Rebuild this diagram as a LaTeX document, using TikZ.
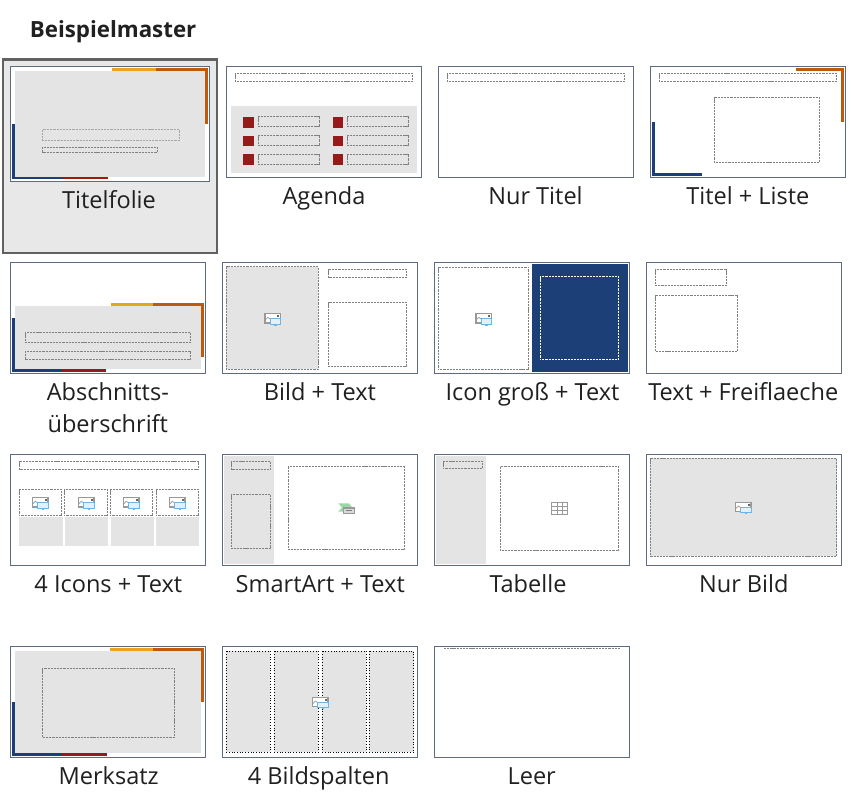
\documentclass[tikz,border=0pt]{standalone}
\usepackage{fontspec}
\setmainfont{Open Sans}
\definecolor{framecol}{HTML}{5F6B82}
\definecolor{slidegray}{HTML}{E4E4E4}
\definecolor{barblue}{HTML}{1C3F78}
\definecolor{barorange}{HTML}{BE5A0B}
\definecolor{baryellow}{HTML}{E8A71A}
\definecolor{barred}{HTML}{951A1A}
\definecolor{textcol}{HTML}{202020}
\definecolor{iconblue}{HTML}{6DB4E8}
\definecolor{icongreen}{HTML}{9AD8A8}
\tikzset{
  thumb/.style={draw=framecol, line width=0.75pt, fill=white},
  holder/.style={draw=black!50, line width=0.55pt, dash pattern=on 1.25pt off 0.55pt},
  iconline/.style={draw=black!40, line width=0.7pt},
  caption/.style={anchor=base, inner sep=0pt, yshift=-0.4pt, text=textcol, font=\fontsize{13.4}{15}\selectfont},
}
% Bild-Symbol
\newcommand{\iconpic}[2]{
  \begin{scope}[shift={(#1,#2)}]
    \draw[iconline, fill=white] (-7.8,-4.6) rectangle (7.8,4.6);
    \draw[black!40, line width=0.4pt] (-7.8,2) -- (-5,-1) -- (-2,1) -- (-1,3);
    \fill[black!60] (4.5,-3.5) rectangle (6.5,-1.5);
    \draw[iconblue, line width=0.6pt, fill=iconblue!20] (-2.5,0.2) rectangle (8,5.8);
    \fill[iconblue] (1.6,5.8) rectangle (3.8,7.2);
  \end{scope}
}
\begin{document}
\begin{tikzpicture}[x=0.02cm, y=-0.02cm]
        \useasboundingbox (0,0) rectangle (851,802);
        \fill[white] (0,0) rectangle (851,802);
        \node[anchor=base west, inner sep=0pt, text=textcol, font=\fontsize{12.7}{14}\selectfont\bfseries] (heading) at (29.5,37) {Beispielmaster};

        % Titelfolie
        \draw[draw=black!62, line width=1.2pt, fill=black!9] (3,59.5) rectangle (217,253);
        \draw[thumb] (10.5,66.5) rectangle (209.5,181.5);
        \fill[baryellow] (112,68) rectangle (156,71);
        \fill[barorange] (156,68) rectangle (208,71);
        \fill[barorange] (205,68) rectangle (208,124);
        \fill[barblue] (12,124) rectangle (15,179);
        \fill[barblue] (12,176) rectangle (63,179);
        \fill[barred] (63,176) rectangle (108,179);
        \fill[slidegray] (15,71) rectangle (205,177);
        \draw[holder, black!35, line width=0.8pt] (42.7,129.7) rectangle (179.3,140.3);
        \draw[holder] (42.7,147.2) rectangle (157.5,152.5);
        \node[caption] (titelfolie) at (109,207.3) {Titelfolie};

        % Agenda
        \draw[thumb] (226.5,66.5) rectangle (421.5,177.5);
        \draw[holder] (235.3,73.3) rectangle (412.7,81.3);
        \fill[slidegray] (231,106) rectangle (417,173);
        \fill[barred] (243,117) rectangle (254,128);
        \fill[barred] (243,136) rectangle (254,146);
        \fill[barred] (243,154) rectangle (254,165);
        \fill[barred] (333,117) rectangle (343,128);
        \fill[barred] (333,136) rectangle (343,146);
        \fill[barred] (333,154) rectangle (343,165);
        \draw[holder] (258.3,116.3) rectangle (319.7,126.7);
        \draw[holder] (258.3,135.3) rectangle (319.7,145.7);
        \draw[holder] (258.3,154.3) rectangle (319.7,164.7);
        \draw[holder] (347.3,116.3) rectangle (408.7,126.7);
        \draw[holder] (347.3,135.3) rectangle (408.7,145.7);
        \draw[holder] (347.3,154.3) rectangle (408.7,164.7);
        \node[caption] (agenda) at (324,203.5) {Agenda};

        % Nur Titel
        \draw[thumb] (438.3,66.5) rectangle (633.7,177.5);
        \draw[holder] (447.3,73.3) rectangle (624.7,81.3);
        \node[caption] (nurtitel) at (535.5,203.5) {Nur Titel};

        % Titel + Liste
        \draw[thumb] (650.3,66.5) rectangle (845.7,177.5);
        \fill[barorange] (796,68) rectangle (844,70.7);
        \fill[barorange] (841.3,68) rectangle (844,122);
        \fill[barblue] (652,122) rectangle (654.7,176);
        \fill[barblue] (652,173.3) rectangle (702,176);
        \draw[holder] (659.3,73.3) rectangle (836.7,81.3);
        \draw[holder] (714.3,97.3) rectangle (819.7,162.3);
        \node[caption] (titelliste) at (747.8,203.5) {Titel + Liste};

        % Abschnittsueberschrift
        \draw[thumb] (10.3,262.3) rectangle (205.7,373.3);
        \fill[baryellow] (111,303) rectangle (153,306);
        \fill[barorange] (153,303) rectangle (204,306);
        \fill[barorange] (201,303) rectangle (204,357);
        \fill[barblue] (12,318) rectangle (15,372);
        \fill[barblue] (12,369) rectangle (62,372);
        \fill[barred] (62,369) rectangle (106,372);
        \fill[slidegray] (15,306) rectangle (201,369);
        \draw[holder] (25.3,332.3) rectangle (190.7,342.7);
        \draw[holder] (25.3,351) rectangle (190.7,359.7);
        \node[caption] (abschnitt) at (107.8,400) {Abschnitts-};
        \node[caption] (ueberschrift) at (107.8,431.7) {überschrift};

        % Bild + Text
        \draw[thumb] (222.3,262.3) rectangle (417.7,373.3);
        \draw[holder, fill=slidegray] (226.3,266.7) rectangle (318.3,369.3);
        \draw[holder] (328.3,269.3) rectangle (406.7,277.7);
        \draw[holder] (328.3,302.3) rectangle (406.7,366.3);
        \iconpic{272.7}{318.3}
        \node[caption] (bildtext) at (320,400) {Bild + Text};

        % Icon gross + Text
        \draw[thumb] (434.3,262.3) rectangle (629.7,373.3);
        \draw[holder] (438.3,267.3) rectangle (528.7,369.7);
        \fill[barblue] (532,264) rectangle (628,372);
        \draw[holder, draw=white!85!yellow] (540.3,276.3) rectangle (618.7,359.7);
        \iconpic{483.7}{318.3}
        \node[caption] (icongross) at (532.5,400) {Icon groß + Text};

        % Text + Freiflaeche
        \draw[thumb] (646.3,262.3) rectangle (841.7,373.3);
        \draw[holder] (655.3,269.3) rectangle (726.7,285.3);
        \draw[holder] (655.3,295.3) rectangle (737.7,351.7);
        \node[caption] (freiflaeche) at (743.3,400) {Text + Freiflaeche};

        % 4 Icons + Text
        \draw[thumb] (10.3,454.3) rectangle (205.7,565.3);
        \draw[holder] (19.3,461.3) rectangle (198.7,469.7);
        \fill[slidegray] (19,517) rectangle (63,546);
        \fill[slidegray] (65,517) rectangle (108,546);
        \fill[slidegray] (111,517) rectangle (154,546);
        \fill[slidegray] (156,517) rectangle (199,546);
        \draw[holder] (19.3,489.3) rectangle (61.7,515.7);
        \draw[holder] (64.3,489.3) rectangle (107.7,515.7);
        \draw[holder] (110.3,489.3) rectangle (152.7,515.7);
        \draw[holder] (156.3,489.3) rectangle (198.7,515.7);
        \iconpic{40.3}{502.3}
        \iconpic{86.3}{502.3}
        \iconpic{131.3}{502.3}
        \iconpic{177.3}{502.3}
        \node[caption] (vierIcons) at (108.3,591.7) {4 Icons + Text};

        % SmartArt + Text
        \draw[thumb] (222.3,454.3) rectangle (417.7,565.3);
        \fill[slidegray] (224,456) rectangle (274,564);
        \draw[holder] (231.3,461.3) rectangle (270.7,469.7);
        \draw[holder] (231.3,494.3) rectangle (270.7,548.7);
        \draw[holder] (288.3,466.7) rectangle (404.7,549.7);
        \fill[icongreen] (338.3,503.3) -- (349,503.3) -- (353.3,509) -- (345,511.7) -- (338.3,511.7) -- (342,507.5) -- cycle;
        \draw[iconline, fill=black!15] (343.5,507.9) rectangle (354.5,513.5);
        \draw[black!50, line width=0.35pt] (346,510.7) -- (352,510.7);
        \node[caption] (smartart) at (320.3,591.7) {SmartArt + Text};

        % Tabelle
        \draw[thumb] (434.3,454.3) rectangle (629.7,565.3);
        \fill[slidegray] (436,456) rectangle (486,564);
        \draw[holder] (443.3,461.3) rectangle (482.7,468.7);
        \draw[holder] (500.3,466.7) rectangle (618.7,550.7);
        \draw[iconline, fill=white] (551.6,502.6) rectangle (567.4,514.4);
        \draw[black!40, line width=0.35pt] (556.9,502.6) -- (556.9,514.4);
        \draw[black!40, line width=0.35pt] (562.2,502.6) -- (562.2,514.4);
        \draw[black!40, line width=0.35pt] (551.6,506.5) -- (567.4,506.5);
        \draw[black!40, line width=0.35pt] (551.6,510.5) -- (567.4,510.5);
        \node[caption] (tabelle) at (528,591.7) {Tabelle};

        % Nur Bild
        \draw[thumb] (646.3,454.3) rectangle (841.7,565.3);
        \draw[holder, fill=slidegray] (650.3,458.3) rectangle (836.7,556.3);
        \iconpic{743.3}{507}
        \node[caption] (nurbild) at (743.8,591.7) {Nur Bild};

        % Merksatz
        \draw[thumb] (10.3,646.3) rectangle (205.7,757.3);
        \fill[baryellow] (110,648) rectangle (153,651);
        \fill[barorange] (153,648) rectangle (204,651);
        \fill[barorange] (201,648) rectangle (204,702);
        \fill[barblue] (12,702) rectangle (15,756);
        \fill[barblue] (12,753) rectangle (62,756);
        \fill[barred] (62,753) rectangle (107,756);
        \fill[slidegray] (15,651) rectangle (201,753);
        \draw[holder] (42.3,668.3) rectangle (174.7,737.3);
        \node[caption] (merksatz) at (108.7,784) {Merksatz};

        % 4 Bildspalten
        \draw[thumb] (222.3,646.3) rectangle (417.7,757.3);
        \draw[densely dotted, line width=0.55pt, fill=slidegray] (226.3,651.3) rectangle (270.3,752.3);
        \draw[densely dotted, line width=0.55pt, fill=slidegray] (274.3,651.3) rectangle (318.3,752.3);
        \draw[densely dotted, line width=0.55pt, fill=slidegray] (322.3,651.3) rectangle (366.3,752.3);
        \draw[densely dotted, line width=0.55pt, fill=slidegray] (369.3,651.3) rectangle (413.7,752.3);
        \iconpic{320.3}{702}
        \node[caption] (bildspalten) at (318.7,784) {4 Bildspalten};

        % Leer
        \draw[thumb] (434.3,646.3) rectangle (629.7,757.3);
        \coordinate (leerL) at (444,648.6);
        \coordinate (leerR) at (620.3,648.6);
        \draw[holder] (leerL) -- (leerR);
        \node[caption] (leer) at (531.7,784) {Leer};
    \end{tikzpicture}
\end{document}
